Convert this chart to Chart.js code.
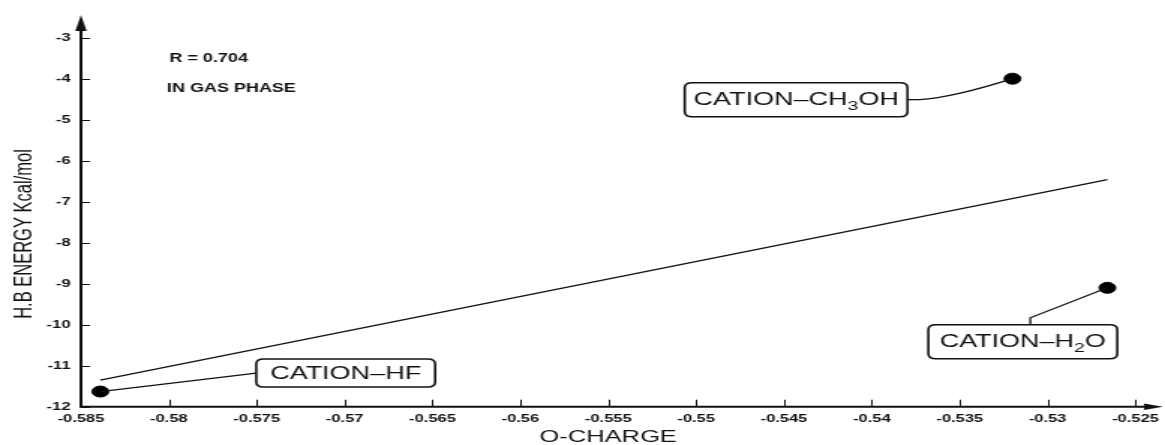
<!DOCTYPE html>
<html>
<head>
<meta charset="utf-8">
<script src="https://cdn.jsdelivr.net/npm/chart.js@4.4.1/dist/chart.umd.min.js"></script>
<style>
  html, body { margin: 0; padding: 0; background: #fff; overflow: hidden; }
  /* the plot is drawn narrow and widened horizontally */
  #stage { width: 777px; height: 445px; transform: scale(1.4994, 1); transform-origin: 0 0; }
  canvas { display: block; }
</style>
</head>
<body>
<div id="stage"><canvas id="chart" width="777" height="445"></canvas></div>
<script>
// Complexes: oxygen charge (x) against H-bond energy (y)
const complexNames = ['CATION–HF', 'CATION–CH3OH', 'CATION–H2O'];
const oCharge = [-0.5839, -0.532, -0.5266];
const hbEnergy = [-11.63, -4.0, -9.1];

// End points of the fitted straight line
const fitCharge = [-0.5839, -0.5266];
const fitEnergy = [-11.35, -6.46];

// Axis ticks
const xTickValues = [-0.585, -0.58, -0.575, -0.57, -0.565, -0.56, -0.555, -0.55, -0.545, -0.54, -0.535, -0.53, -0.525];
const xTickLabels = ['-0.585', '-0.58', '-0.575', '-0.57', '-0.565', '-0.56', '-0.555', '-0.55', '-0.545', '-0.54', '-0.535', '-0.53', '-0.525'];
const yTickValues = [-12, -11, -10, -9, -8, -7, -6, -5, -4, -3];
const yTickLabels = ['-12', '-11', '-10', '-9', '-8', '-7', '-6', '-5', '-4', '-3'];

const xTitle = 'O-CHARGE';
const yTitle = 'H.B ENERGY Kcal/mol';
const noteLines = ['R = 0.704', 'IN GAS PHASE'];

// Callout boxes, placed relative to the marker they describe (pixels)
const calloutLayout = [
  { dx: 104, dy: -32.5, w: 119.3, h: 28, leader: 'left' },
  { dx: -218.6, dy: 4, w: 148.6, h: 34, leader: 'right' },
  { dx: -119.4, dy: 37, w: 126, h: 34, leader: 'top', stemX: 68, stemLen: 7 }
];

const FONT = "'Liberation Sans', Arial, Helvetica, sans-serif";
const INK = '#111';
Chart.defaults.font.family = FONT;

function roundRect(ctx, x, y, w, h, r) {
  ctx.beginPath();
  ctx.moveTo(x + r, y);
  ctx.lineTo(x + w - r, y);
  ctx.quadraticCurveTo(x + w, y, x + w, y + r);
  ctx.lineTo(x + w, y + h - r);
  ctx.quadraticCurveTo(x + w, y + h, x + w - r, y + h);
  ctx.lineTo(x + r, y + h);
  ctx.quadraticCurveTo(x, y + h, x, y + h - r);
  ctx.lineTo(x, y + r);
  ctx.quadraticCurveTo(x, y, x + r, y);
  ctx.closePath();
}

// split a formula-like name so that digits become subscripts
function splitName(name) {
  return name.match(/\d+|\D+/g).map(s => ({ text: s, sub: /^\d+$/.test(s) }));
}

const framePlugin = {
  id: 'frame',
  afterDraw(chart) {
    const { ctx, chartArea: a, scales: { x, y } } = chart;
    ctx.save();
    ctx.strokeStyle = INK;
    ctx.fillStyle = INK;

    // axes with arrow heads
    ctx.lineWidth = 2;
    ctx.beginPath();
    ctx.moveTo(a.left, a.bottom);
    ctx.lineTo(a.left, 26);
    ctx.moveTo(a.left - 1, a.bottom);
    ctx.lineTo(765, a.bottom);
    ctx.stroke();
    ctx.beginPath();
    ctx.moveTo(a.left, 15);
    ctx.lineTo(a.left - 3.8, 31);
    ctx.lineTo(a.left + 3.8, 31);
    ctx.closePath();
    ctx.fill();
    ctx.beginPath();
    ctx.moveTo(775.5, a.bottom);
    ctx.lineTo(763, a.bottom - 3.2);
    ctx.lineTo(763, a.bottom + 3.2);
    ctx.closePath();
    ctx.fill();

    // inward tick marks
    ctx.lineWidth = 1;
    ctx.beginPath();
    xTickValues.forEach(v => {
      const px = Math.round(x.getPixelForValue(v)) + 0.5;
      ctx.moveTo(px, a.bottom);
      ctx.lineTo(px, a.bottom - 7);
    });
    yTickValues.forEach(v => {
      const py = Math.round(y.getPixelForValue(v)) + 0.5;
      ctx.moveTo(a.left, py);
      ctx.lineTo(a.left + 6, py);
    });
    ctx.stroke();

    // vertical axis title
    ctx.save();
    ctx.translate(16.5, 234);
    ctx.rotate(-Math.PI / 2);
    ctx.font = '16.5px ' + FONT;
    ctx.textAlign = 'center';
    ctx.textBaseline = 'middle';
    ctx.fillText(yTitle, 0, 0);
    ctx.restore();

    // notes in the upper left
    ctx.font = 'bold 12px ' + FONT;
    ctx.textAlign = 'left';
    ctx.textBaseline = 'alphabetic';
    ctx.fillText(noteLines[0], 113, 61.5);
    ctx.fillText(noteLines[1], 111.3, 91.5);

    // callouts
    complexNames.forEach((name, i) => {
      const L = calloutLayout[i];
      const px = x.getPixelForValue(oCharge[i]);
      const py = y.getPixelForValue(hbEnergy[i]);
      const bx = px + L.dx, by = py + L.dy;
      const midY = by + L.h / 2;

      ctx.lineWidth = 1.3;
      ctx.beginPath();
      if (L.leader === 'left') {
        ctx.moveTo(px, py);
        ctx.lineTo(bx, midY);
      } else if (L.leader === 'right') {
        ctx.moveTo(bx + L.w, midY);
        ctx.lineTo(bx + L.w + 8, midY);
        ctx.quadraticCurveTo(bx + L.w + 30, midY - 2, px, py);
      } else {
        const sx = bx + L.stemX;
        ctx.moveTo(sx, by);
        ctx.lineTo(sx, by - L.stemLen);
        ctx.lineTo(px, py);
      }
      ctx.stroke();

      ctx.lineWidth = 1.6;
      roundRect(ctx, bx, by, L.w, L.h, 5);
      ctx.fillStyle = '#fff';
      ctx.fill();
      ctx.stroke();
      ctx.fillStyle = INK;

      const parts = splitName(name);
      const hasSub = parts.some(p => p.sub);
      let total = 0;
      parts.forEach(p => {
        ctx.font = (p.sub ? '13px ' : '18px ') + FONT;
        p.w = ctx.measureText(p.text).width;
        total += p.w;
      });
      let tx = bx + L.w / 2 - total / 2;
      const base = midY + (hasSub ? 5 : 6.4);
      ctx.textAlign = 'left';
      parts.forEach(p => {
        ctx.font = (p.sub ? '13px ' : '18px ') + FONT;
        ctx.fillText(p.text, tx, p.sub ? base + 5.5 : base);
        tx += p.w;
      });
    });

    ctx.restore();
  }
};

const pointData = oCharge.map((v, i) => ({ x: v, y: hbEnergy[i] }));
const fitData = fitCharge.map((v, i) => ({ x: v, y: fitEnergy[i] }));

new Chart(document.getElementById('chart'), {
  type: 'scatter',
  data: {
    datasets: [
      {
        label: 'Complexes',
        data: pointData,
        backgroundColor: '#000',
        borderColor: '#000',
        pointRadius: 5.5,
        pointHoverRadius: 5.5
      },
      {
        label: 'Linear fit',
        data: fitData,
        showLine: true,
        borderColor: INK,
        borderWidth: 1.3,
        pointRadius: 0,
        fill: false
      }
    ]
  },
  options: {
    responsive: false,
    animation: false,
    events: [],
    layout: { padding: { top: 37.7, right: 19.7, left: 0, bottom: 0 } },
    plugins: { legend: { display: false }, tooltip: { enabled: false } },
    scales: {
      x: {
        type: 'linear',
        min: -0.585,
        max: -0.525,
        grid: { display: false, drawTicks: false },
        border: { display: false },
        afterBuildTicks: s => { s.ticks = xTickValues.map(v => ({ value: v })); },
        afterFit: s => { s.height = 38.3; s.paddingLeft = 0; s.paddingRight = 0; },
        ticks: {
          callback: (v, i) => xTickLabels[i],
          padding: 6,
          autoSkip: false,
          maxRotation: 0,
          color: INK,
          font: { size: 11, weight: 'bold' }
        },
        title: {
          display: true,
          text: xTitle,
          color: INK,
          font: { size: 17, lineHeight: 0.85 },
          padding: { top: 0, bottom: 0 }
        }
      },
      y: {
        type: 'linear',
        min: -12,
        max: -3,
        grid: { display: false, drawTicks: false },
        border: { display: false },
        afterBuildTicks: s => { s.ticks = yTickValues.map(v => ({ value: v })); },
        afterFit: s => { s.width = 54; s.paddingTop = 0; s.paddingBottom = 0; },
        ticks: {
          callback: (v, i) => yTickLabels[i],
          padding: 7,
          autoSkip: false,
          color: INK,
          font: { size: 11, weight: 'bold' }
        }
      }
    }
  },
  plugins: [framePlugin]
});
</script>
</body>
</html>
